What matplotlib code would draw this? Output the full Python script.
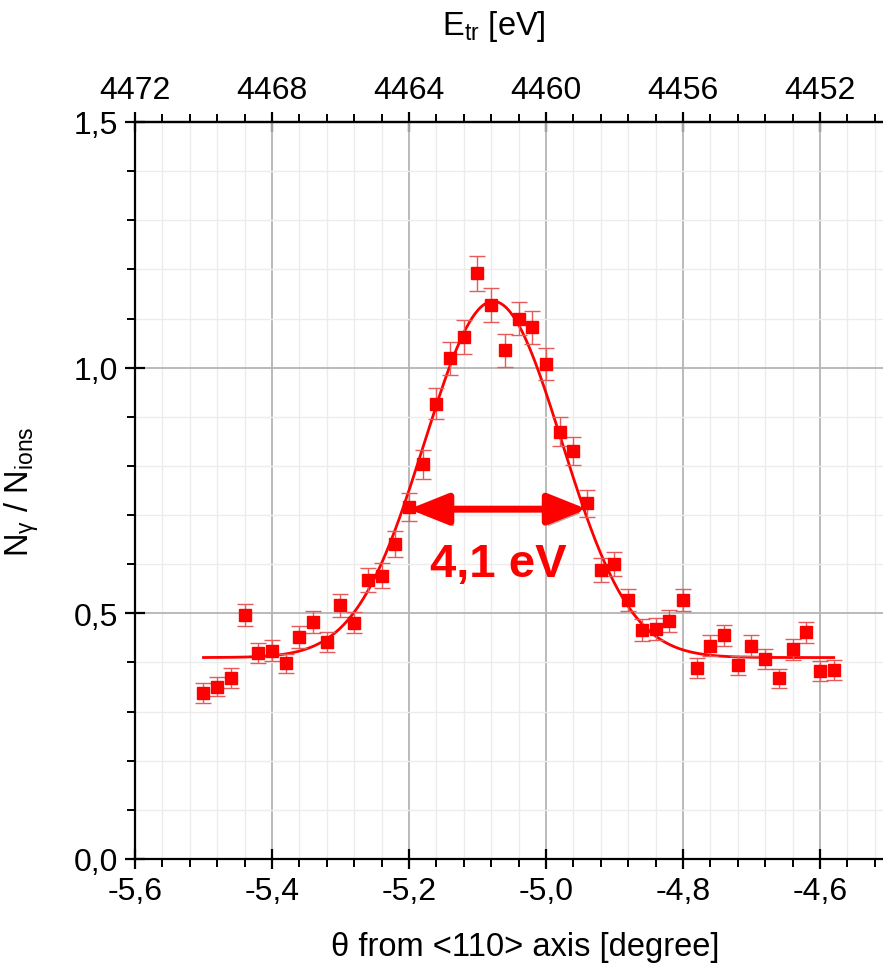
import numpy as np
import matplotlib
matplotlib.use("Agg")
import matplotlib.pyplot as plt
import matplotlib.patheffects as pe
from matplotlib.ticker import MultipleLocator, FuncFormatter

plt.rcParams['font.family'] = ['Liberation Sans', 'DejaVu Sans']
plt.rcParams['mathtext.default'] = 'regular'

# measured yield vs tilt angle
theta = [-5.50, -5.48, -5.46, -5.44, -5.42, -5.40, -5.38, -5.36, -5.34, -5.32,
         -5.30, -5.28, -5.26, -5.24, -5.22, -5.20, -5.18, -5.16, -5.14, -5.12,
         -5.10, -5.08, -5.06, -5.04, -5.02, -5.00, -4.98, -4.96, -4.94, -4.92,
         -4.90, -4.88, -4.86, -4.84, -4.82, -4.80, -4.78, -4.76, -4.74, -4.72,
         -4.70, -4.68, -4.66, -4.64, -4.62, -4.60, -4.58]
ratio = [0.338, 0.351, 0.368, 0.497, 0.419, 0.424, 0.398, 0.452, 0.482, 0.442,
         0.516, 0.481, 0.568, 0.577, 0.641, 0.716, 0.803, 0.927, 1.019, 1.062,
         1.192, 1.128, 1.035, 1.100, 1.082, 1.007, 0.870, 0.830, 0.724, 0.588,
         0.600, 0.527, 0.466, 0.468, 0.484, 0.527, 0.389, 0.434, 0.455, 0.394,
         0.434, 0.407, 0.368, 0.427, 0.461, 0.383, 0.385]
ratio_err = [0.020, 0.020, 0.020, 0.023, 0.021, 0.021, 0.020, 0.022, 0.022, 0.021,
             0.023, 0.022, 0.025, 0.025, 0.026, 0.028, 0.029, 0.031, 0.033, 0.034,
             0.036, 0.035, 0.033, 0.034, 0.034, 0.033, 0.030, 0.029, 0.027, 0.025,
             0.025, 0.023, 0.022, 0.022, 0.022, 0.023, 0.020, 0.021, 0.022, 0.020,
             0.021, 0.020, 0.019, 0.021, 0.021, 0.020, 0.020]

# gaussian fit parameters
fit_base = 0.41
fit_amp = 0.725
fit_center = -5.077
fit_sigma = 0.100

# width marker
fwhm_left, fwhm_right, fwhm_level = -5.20, -4.94, 0.712
fwhm_text = "4,1 eV"

red = "#ff0000"
fs = 23

fig = plt.figure(figsize=(8.83, 9.70), dpi=100)
ax = fig.add_axes([135 / 883, 110 / 970, 748 / 883, 737 / 970])

xf = np.linspace(theta[0], theta[-1], 400)
yf = fit_base + fit_amp * np.exp(-(xf - fit_center) ** 2 / (2 * fit_sigma ** 2))
ax.plot(xf, yf, color=red, lw=2, zorder=3)

ax.errorbar(theta, ratio, yerr=ratio_err, fmt='s', color=red, ms=8.5,
            ecolor="#e65a5a", elinewidth=1, capsize=6, capthick=1, zorder=4)

ann = ax.annotate("", xy=(fwhm_right, fwhm_level), xytext=(fwhm_left, fwhm_level),
                  arrowprops=dict(arrowstyle="<|-|>,head_length=0.9,head_width=0.36",
                                  color=red, lw=5, mutation_scale=26,
                                  shrinkA=0, shrinkB=0), zorder=5)
ann.arrow_patch.set_path_effects([pe.SimplePatchShadow(offset=(2, -3), alpha=0.35),
                                  pe.Normal()])
ax.text((fwhm_left + fwhm_right) / 2, 0.600, fwhm_text, color=red, fontsize=34,
        fontweight='bold', ha='center', va='center', zorder=5)

ax.set_xlim(-5.6, -4.508)
ax.set_ylim(0, 1.5)

ax.xaxis.set_major_locator(MultipleLocator(0.2))
ax.xaxis.set_minor_locator(MultipleLocator(0.04))
ax.yaxis.set_major_locator(MultipleLocator(0.5))
ax.yaxis.set_minor_locator(MultipleLocator(0.1))
comma = FuncFormatter(lambda v, p: f"{v:.1f}".replace(".", ","))
ax.xaxis.set_major_formatter(comma)
ax.yaxis.set_major_formatter(comma)

ax.grid(which='major', color='#b4b4b4', lw=1.3)
ax.grid(which='minor', color='#ececec', lw=1.0)
ax.set_axisbelow(True)

for s in ['left', 'bottom', 'top']:
    ax.spines[s].set_linewidth(1.6)
ax.spines['right'].set_visible(False)

ax.tick_params(which='major', direction='inout', length=14, width=1.6,
               labelsize=fs, pad=5)
ax.tick_params(which='minor', direction='out', length=6, width=1.4)

ax.set_xlabel("θ from <110> axis [degree]", fontsize=fs + 0.5, labelpad=18)
ax.xaxis.label.set_x((525 - 135) / 748)
ax.set_ylabel(r"N$_{\gamma}$ / N$_{ions}$", fontsize=fs + 0.5, labelpad=24)

# transverse energy scale on top
top = ax.secondary_xaxis('top', functions=(lambda t: 4360 - 20 * t,
                                           lambda e: (4360 - e) / 20))
top.set_xticks([4472, 4468, 4464, 4460, 4456, 4452])
top.xaxis.set_minor_locator(MultipleLocator(0.8))
top.tick_params(which='major', direction='inout', length=14, width=1.6,
                labelsize=fs, pad=5)
top.tick_params(which='minor', direction='out', length=6, width=1.4)
top.spines['top'].set_linewidth(1.6)
top.set_xlabel(r"E$_{tr}$ [eV]", fontsize=fs + 0.5, labelpad=30)
top.xaxis.label.set_x((494 - 135) / 748)

fig.savefig("out.png", dpi=100)
